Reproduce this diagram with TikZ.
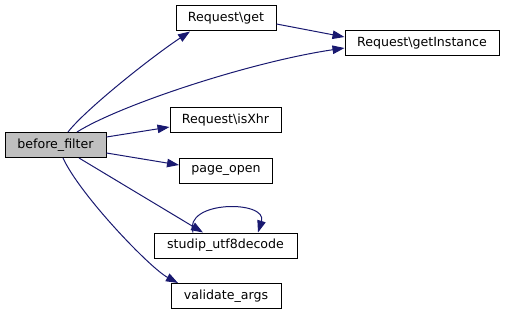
\documentclass[tikz,border=0pt]{standalone}
\usepackage{fontspec}
\setmainfont{DejaVu Sans}
\usetikzlibrary{arrows.meta, positioning}
\definecolor{edgecol}{HTML}{191970}
\definecolor{rootcol}{HTML}{BFBFBF}
\tikzset{
  fnode/.style={rectangle, draw=black, fill=white, line width=1pt, minimum height=25pt, inner sep=1pt, font=\fontsize{12.6}{14}\selectfont},
  rnode/.style={fnode, fill=rootcol},
  call/.style={draw=edgecol, line width=1pt, -{Triangle[length=12pt, width=8.5pt]}},
}

\begin{document}
\begin{tikzpicture}[x=1pt, y=-1pt]
  \useasboundingbox (0,0) rectangle (505,315);
  \node[rnode, minimum width=101pt] (bf)    at (55.5, 145)   {before\_filter};
  \node[fnode, minimum width=100pt] (rget)  at (226, 18.5)   {Request\textbackslash get};
  \node[fnode, minimum width=154pt] (rinst) at (422, 43.5)   {Request\textbackslash getInstance};
  \node[fnode, minimum width=111pt] (xhr)   at (225.5, 120.5){Request\textbackslash isXhr};
  \node[fnode, minimum width=93pt]  (popen) at (226, 170.5)  {page\_open};
  \node[fnode, minimum width=143pt] (utf)   at (225.5, 245.5){studip\_utf8decode};
  \node[fnode, minimum width=110pt] (vargs) at (226, 296)    {validate\_args};
  % calls from before_filter
  \draw[call] ([xshift=12.5pt]bf.north) .. controls (85,110) and (150,58) .. ([xshift=-36pt]rget.south);
  \draw[call] ([xshift=21.5pt]bf.north) .. controls (120,105) and (250,62) .. ([yshift=-4.5pt]rinst.west);
  \draw[call] ([yshift=-5.5pt]rget.east) -- ([yshift=6.5pt]rinst.west);
  \draw[call] ([yshift=8pt]bf.east) -- ([yshift=-6.5pt]xhr.west);
  \draw[call] ([yshift=-8pt]bf.east) -- ([yshift=5.5pt]popen.west);
  \draw[call] ([xshift=23.5pt]bf.south) -- ([xshift=-22.5pt]utf.north);
  \draw[call] ([xshift=7.5pt]bf.south) .. controls (80,195) and (150,268) .. ([xshift=-48pt]vargs.north);
  % recursion
  \draw[call] ([xshift=-32.5pt]utf.north) .. controls (183,200) and (268,200) .. ([xshift=32.5pt]utf.north);
\end{tikzpicture}
\end{document}
